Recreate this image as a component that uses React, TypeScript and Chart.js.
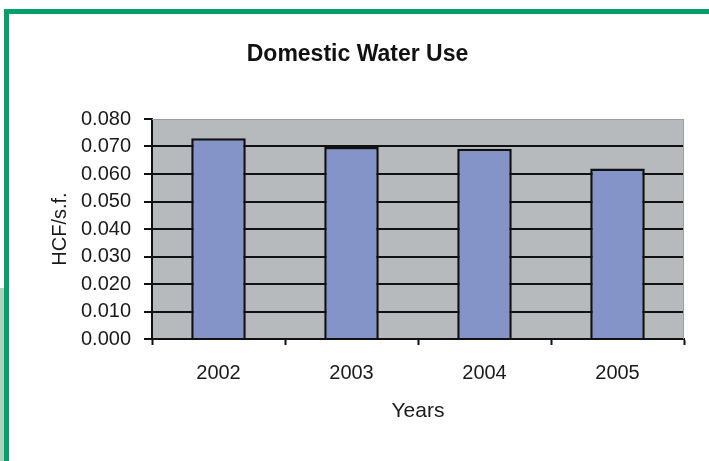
import React, { useEffect, useRef } from "react";
import { Chart, registerables } from "chart.js";

Chart.register(...registerables);

const chartTitle = "Domestic Water Use";
const years = ["2002", "2003", "2004", "2005"];
const usePerSqFt = [0.073, 0.0698, 0.0692, 0.062];
const yMin = 0;
const yMax = 0.08;
const yStep = 0.01;
const xTitle = "Years";
const yTitle = "HCF/s.f.";

const W = 709;
const H = 461;
const FONT = "'Liberation Sans', Arial, sans-serif";

// plot panel, frame and border decorations
const decorations = {
  id: "decorations",
  beforeDraw(chart: any) {
    const { ctx, chartArea } = chart;
    ctx.save();
    ctx.fillStyle = "#ffffff";
    ctx.fillRect(0, 0, W, H);
    // page frame
    ctx.fillStyle = "#a9d4bd";
    ctx.fillRect(0, 288, 4, H - 288);
    ctx.fillStyle = "#04a06c";
    ctx.fillRect(4, 9, W - 4, 5);
    ctx.fillRect(4, 9, 5, H - 9);
    // plot background
    ctx.fillStyle = "#b6babd";
    ctx.fillRect(chartArea.left, chartArea.top, chartArea.right - chartArea.left, chartArea.bottom - chartArea.top);
    ctx.restore();
  },
  afterDatasetsDraw(chart: any) {
    const { ctx, chartArea } = chart;
    ctx.save();
    ctx.strokeStyle = "#9a9ea1";
    ctx.lineWidth = 1;
    ctx.beginPath();
    ctx.moveTo(chartArea.left, chartArea.top + 0.5);
    ctx.lineTo(chartArea.right - 0.5, chartArea.top + 0.5);
    ctx.lineTo(chartArea.right - 0.5, chartArea.bottom);
    ctx.stroke();
    ctx.restore();
  },
};

export default function App() {
  const ref = useRef<HTMLCanvasElement>(null);

  useEffect(() => {
    if (!ref.current) return;
    const chart = new Chart(ref.current, {
      type: "bar",
      data: {
        labels: years,
        datasets: [
          {
            data: usePerSqFt,
            backgroundColor: "#8494c9",
            borderColor: "#111111",
            borderWidth: 2.5,
            borderSkipped: "bottom",
            categoryPercentage: 1,
            barPercentage: 0.41,
          },
        ],
      },
      options: {
        responsive: false,
        animation: false,
        devicePixelRatio: 1,
        layout: { padding: { left: 31, right: 25, top: 0, bottom: 0 } },
        plugins: {
          legend: { display: false },
          tooltip: { enabled: false },
          title: {
            display: true,
            text: chartTitle,
            color: "#111111",
            font: { family: FONT, size: 23, weight: "bold", lineHeight: 1.2 },
            padding: { top: 41, bottom: 50.4 },
          },
        },
        scales: {
          x: {
            grid: {
              offset: true,
              drawOnChartArea: false,
              drawTicks: true,
              tickLength: 6,
              tickColor: "#111111",
              tickWidth: 2,
            },
            border: { color: "#111111", width: 2 },
            ticks: {
              color: "#1a1a1a",
              font: { family: FONT, size: 20 },
              padding: 16,
              maxRotation: 0,
            },
            title: {
              display: true,
              text: xTitle,
              color: "#1a1a1a",
              font: { family: FONT, size: 21 },
              padding: { top: 0, bottom: 37 },
            },
            afterFit(scale: any) {
              scale.height = 122;
            },
          },
          y: {
            min: yMin,
            max: yMax,
            grid: {
              color: (c: any) => {
                const v = c.tick ? c.tick.value : 0;
                if (v <= 1e-9) return "rgba(0,0,0,0)";
                if (v >= yMax - 1e-9) return "rgba(0,0,0,0)";
                return "#111111";
              },
              lineWidth: 2,
              drawTicks: true,
              tickLength: 8,
              tickColor: "#111111",
              tickWidth: 2,
            },
            border: { color: "#111111", width: 2 },
            ticks: {
              stepSize: yStep,
              color: "#1a1a1a",
              font: { family: FONT, size: 20 },
              padding: 13,
              callback: (v: any) => Number(v).toFixed(3),
            },
            title: {
              display: true,
              text: yTitle,
              color: "#1a1a1a",
              font: { family: FONT, size: 20 },
              padding: { top: 17, bottom: 0 },
            },
            afterFit(scale: any) {
              scale.width = 121;
            },
          },
        },
      },
      plugins: [decorations],
    });
    return () => chart.destroy();
  }, []);

  return (
    <div style={{ position: "fixed", left: 0, top: 0, width: W, height: H, background: "#fff" }}>
      <canvas ref={ref} width={W} height={H} style={{ display: "block" }} />
    </div>
  );
}
